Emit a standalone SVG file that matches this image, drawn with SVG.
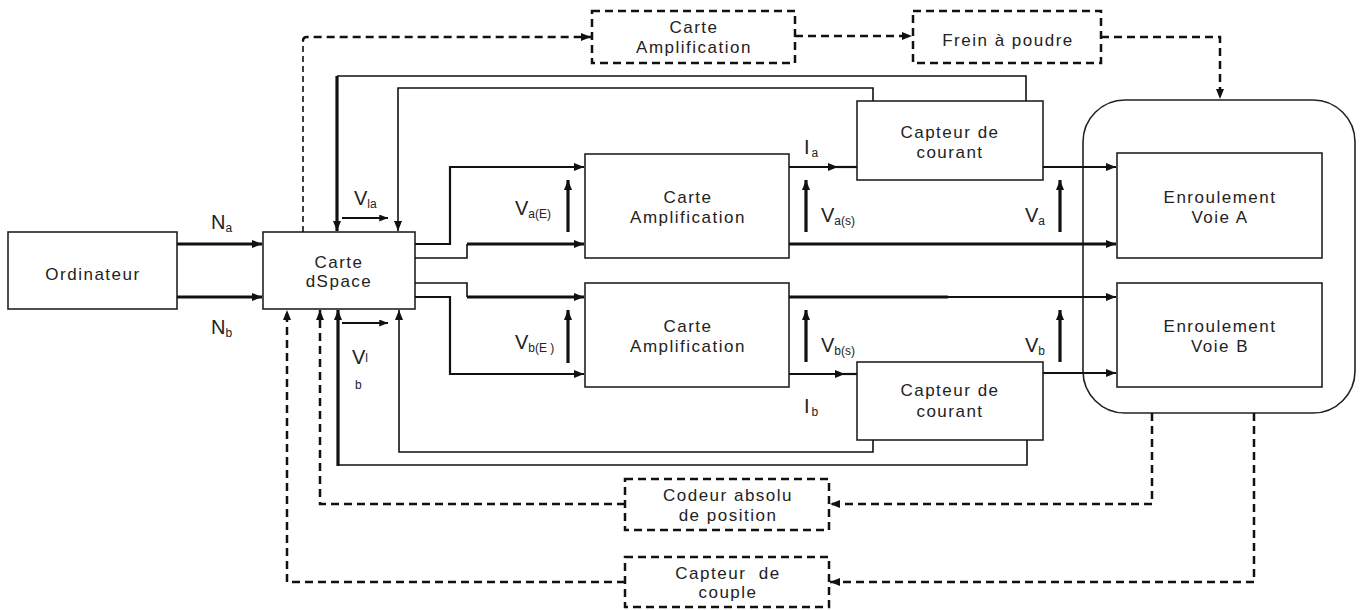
<svg xmlns="http://www.w3.org/2000/svg" width="1364" height="610" viewBox="0 0 1364 610">
<defs>
<marker id="ah" viewBox="0 0 10 8" refX="10" refY="4" markerWidth="10" markerHeight="8" markerUnits="userSpaceOnUse" orient="auto">
<path d="M0,0 L10,4 L0,8 Z" fill="#111"/>
</marker>
<marker id="ahs" viewBox="0 0 10 8" refX="10" refY="4" markerWidth="9" markerHeight="7" markerUnits="userSpaceOnUse" orient="auto">
<path d="M0,0 L10,4 L0,8 Z" fill="#111"/>
</marker>
</defs>
<style>
.box{fill:#fff;stroke:#222;stroke-width:1.6}
.dbox{fill:#fff;stroke:#111;stroke-width:2.5;stroke-dasharray:8 5}
.t{font-family:"Liberation Sans",Arial,sans-serif;font-size:17px;letter-spacing:1.5px;fill:#222;text-anchor:middle}
.lab{font-family:"Liberation Sans",Arial,sans-serif;font-size:20px;fill:#222}
.sub{font-family:"Liberation Sans",Arial,sans-serif;font-size:12px;fill:#222}
.thin{fill:none;stroke:#111;stroke-width:1.6}
.med{fill:none;stroke:#111;stroke-width:2.2}
.thick{fill:none;stroke:#111;stroke-width:3.2}
.dash{fill:none;stroke:#111;stroke-width:2.5;stroke-dasharray:8 5}
.dashl{fill:none;stroke:#111;stroke-width:1.6;stroke-dasharray:6 4}
</style>
<rect width="1364" height="610" fill="#fff"/>

<g id="systeme">
<rect x="1083" y="100" width="272" height="313" rx="42" ry="42" fill="none" stroke="#222" stroke-width="1.6"/>
</g>

<g id="ordinateur">
<rect class="box" x="8" y="232" width="169" height="77"/>
<text class="t" x="93" y="280">Ordinateur</text>
</g>
<g id="dspace">
<rect class="box" x="263" y="232" width="152" height="77"/>
<text class="t" x="339" y="268">Carte</text>
<text class="t" x="339" y="287">dSpace</text>
</g>
<g id="amp-top">
<rect class="dbox" x="592" y="11" width="203" height="52"/>
<text class="t" x="694" y="33">Carte</text>
<text class="t" x="694" y="53">Amplification</text>
</g>
<g id="frein">
<rect class="dbox" x="913" y="11" width="188" height="52"/>
<text class="t" x="1008" y="46">Frein à poudre</text>
</g>
<g id="amp-a">
<rect class="box" x="585" y="154" width="204" height="104"/>
<text class="t" x="688" y="203">Carte</text>
<text class="t" x="688" y="223">Amplification</text>
</g>
<g id="amp-b">
<rect class="box" x="585" y="283" width="204" height="104"/>
<text class="t" x="688" y="332">Carte</text>
<text class="t" x="688" y="352">Amplification</text>
</g>
<g id="capteur-a">
<rect class="box" x="857" y="101" width="186" height="79"/>
<text class="t" x="950" y="138">Capteur de</text>
<text class="t" x="950" y="158">courant</text>
</g>
<g id="capteur-b">
<rect class="box" x="857" y="362" width="186" height="78"/>
<text class="t" x="950" y="396">Capteur de</text>
<text class="t" x="950" y="417">courant</text>
</g>
<g id="enroulement-a">
<rect class="box" x="1117" y="153" width="205" height="105"/>
<text class="t" x="1220" y="203">Enroulement</text>
<text class="t" x="1220" y="223">Voie A</text>
</g>
<g id="enroulement-b">
<rect class="box" x="1117" y="283" width="205" height="104"/>
<text class="t" x="1220" y="332">Enroulement</text>
<text class="t" x="1220" y="352">Voie B</text>
</g>
<g id="codeur">
<rect class="dbox" x="625" y="479" width="204" height="51"/>
<text class="t" x="728" y="501">Codeur absolu</text>
<text class="t" x="728" y="521">de position</text>
</g>
<g id="couple">
<rect class="dbox" x="625" y="557" width="204" height="50"/>
<text class="t" x="728" y="579">Capteur&#160; de</text>
<text class="t" x="728" y="598">couple</text>
</g>

<g id="connectors">
<path class="thick" d="M177,244 H262" marker-end="url(#ah)"/>
<path class="thick" d="M177,297 H262" marker-end="url(#ah)"/>
<path class="med" d="M415,244 H450 V167 H584" marker-end="url(#ah)"/>
<path class="thin" d="M415,258 H467 V244"/>
<path class="thick" d="M467,244 H584" marker-end="url(#ah)"/>
<path class="thin" d="M415,283 H467 V297"/>
<path class="thick" d="M467,297 H584" marker-end="url(#ah)"/>
<path class="med" d="M415,297 H450 V374 H584" marker-end="url(#ah)"/>
<path class="med" d="M789,167 H838" marker-end="url(#ah)"/>
<path class="med" d="M836,167 H857"/>
<path class="med" d="M1043,167 H1116" marker-end="url(#ah)"/>
<path class="thick" d="M789,244 H1116" marker-end="url(#ah)"/>
<path class="thick" d="M789,297 H948"/>
<path class="med" d="M946,297 H1116" marker-end="url(#ah)"/>
<path class="med" d="M789,374 H845" marker-end="url(#ah)"/>
<path class="med" d="M843,374 H857"/>
<path class="med" d="M1043,373 H1116" marker-end="url(#ah)"/>
<path class="thin" d="M1026,101 V76 H337"/>
<path class="thick" d="M337,76 V231" marker-end="url(#ah)"/>
<path class="thin" d="M873,101 V88 H398 V231" marker-end="url(#ah)"/>
<path class="thin" d="M1027,440 V465 H338"/>
<path class="thick" d="M338,466 V310" marker-end="url(#ah)"/>
<path class="thin" d="M873,440 V452 H399 V310" marker-end="url(#ah)"/>
<path class="med" d="M342,218 H388" marker-end="url(#ahs)"/>
<path class="med" d="M342,323 H388" marker-end="url(#ahs)"/>
<path class="thick" d="M568,232 V180" marker-end="url(#ah)"/>
<path class="thick" d="M568,363 V310" marker-end="url(#ah)"/>
<path class="thick" d="M806,232 V180" marker-end="url(#ah)"/>
<path class="thick" d="M806,362 V310" marker-end="url(#ah)"/>
<path class="thick" d="M1060,232 V180" marker-end="url(#ah)"/>
<path class="thick" d="M1060,362 V310" marker-end="url(#ah)"/>
<path class="dashl" d="M303,232 V40"/>
<path class="dash" d="M303,41 Q303,37 307,37 H591" marker-end="url(#ah)"/>
<path class="dash" d="M795,36 H912" marker-end="url(#ah)"/>
<path class="dash" d="M1101,37 H1220 V99" marker-end="url(#ah)"/>
<path class="dash" d="M1152,413 V504 H830" marker-end="url(#ah)"/>
<path class="dash" d="M1254,413 V582 H830" marker-end="url(#ah)"/>
<path class="dash" d="M625,504 H320 V310" marker-end="url(#ah)"/>
<path class="dash" d="M625,582 H287 V310" marker-end="url(#ah)"/>
</g>

<g id="labels">
<text class="lab" x="211" y="229">N<tspan class="sub" dy="3">a</tspan></text>
<text class="lab" x="211" y="334">N<tspan class="sub" dy="3">b</tspan></text>
<text class="lab" x="354" y="205">V<tspan class="sub" dy="3">la</tspan></text>
<text class="lab" x="352" y="364">V<tspan class="sub" dy="-2">l</tspan></text>
<text class="sub" x="355" y="389">b</text>
<text class="lab" x="515" y="215">V<tspan class="sub" dy="3">a(E)</tspan></text>
<text class="lab" x="515" y="349">V<tspan class="sub" dy="3">b(E )</tspan></text>
<text class="lab" x="821" y="222">V<tspan class="sub" dy="3">a(s)</tspan></text>
<text class="lab" x="821" y="352">V<tspan class="sub" dy="3">b(s)</tspan></text>
<text class="lab" x="1025" y="222">V<tspan class="sub" dy="3">a</tspan></text>
<text class="lab" x="1025" y="352">V<tspan class="sub" dy="3">b</tspan></text>
<text class="lab" x="804" y="154">I<tspan class="sub" dx="2" dy="3">a</tspan></text>
<text class="lab" x="804" y="413">I<tspan class="sub" dx="2" dy="3">b</tspan></text>
</g>
</svg>
